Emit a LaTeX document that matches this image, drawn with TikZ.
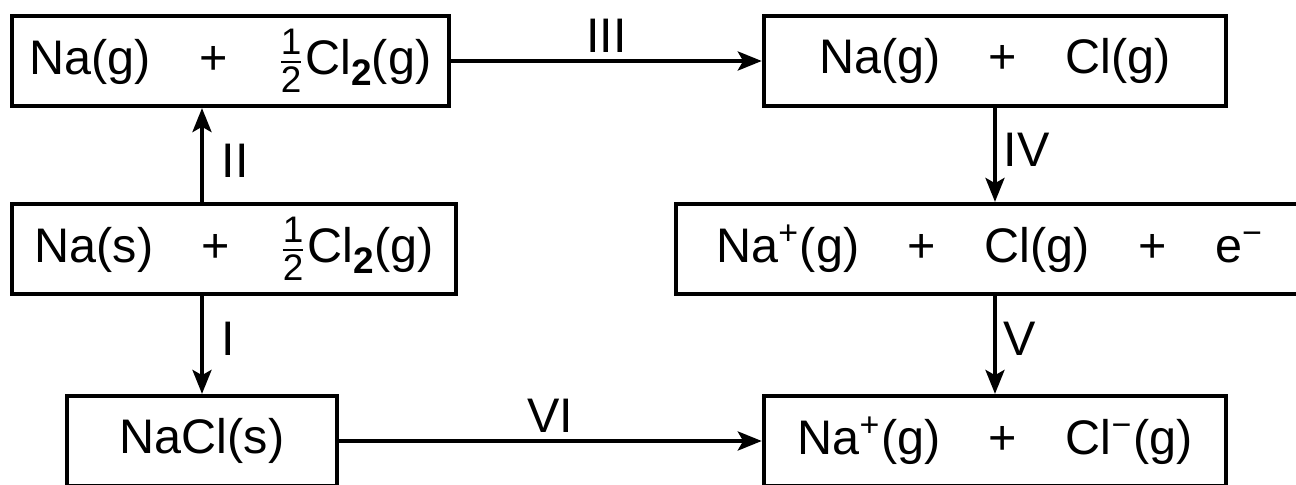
\documentclass[tikz,border=0pt]{standalone}
\usepackage{amsmath}
\usepackage{fontspec}
\setmainfont{Liberation Sans}
\usetikzlibrary{positioning, calc, arrows.meta}
\tikzset{box/.style={draw, line width=1.2pt, inner sep=0pt, minimum height=0.9cm, font=\fontsize{13.8}{16}\selectfont}}
\tikzset{flow/.style={line width=1.1pt, -{Stealth[length=6.8pt, width=5.4pt, inset=1.5pt]}}}
\tikzstyle{stage}=[inner sep=0pt, font=\fontsize{13.8}{16}\selectfont]
\newcommand{\half}{$\frac{\mbox{\fontsize{10.5}{11}\selectfont 1}}{\mbox{\fontsize{10.5}{11}\selectfont 2}}$}
\newcommand{\two}{\raisebox{-3pt}{\fontsize{10.5}{12}\selectfont\bfseries 2}}

\begin{document}
\begin{tikzpicture}[x=0.01cm, y=-0.01cm]
  \useasboundingbox (0,0) rectangle (1296,485);
  \clip (0,0) rectangle (1296,485);

  \node[box, minimum width=4.37cm] (b0) at (230.5,61) {Na(g)\quad+\quad\half Cl\two(g)};
  \node[box, minimum width=4.62cm] (b1) at (995,61) {Na(g)\quad+\quad Cl(g)};
  \node[box, minimum width=4.44cm] (b2) at (234,249) {Na(s)\quad+\quad\half Cl\two(g)};
  \node[box, minimum width=6.28cm] (b3) at (990,249) {Na\textsuperscript{+}(g)\quad+\quad Cl(g)\quad+\quad e\textsuperscript{−}};
  \node[box, minimum width=2.70cm] (b4) at (202,441) {NaCl(s)};
  \node[box, minimum width=4.62cm] (b5) at (995,441) {Na\textsuperscript{+}(g)\quad+\quad Cl\textsuperscript{−}(g)};

  \draw[flow] (b2.north -| b4) -- node[stage, pos=0.44, right=5pt] {II} (b0.south -| b4);
  \draw[flow] (b2.south -| b4) -- node[stage, pos=0.44, right=5pt] {I} (b4.north);
  \draw[flow] (b0.east) -- node[stage, above=2pt] {III} (b1.west);
  \draw[flow] (b1.south) -- node[stage, pos=0.44, right=2pt] {IV} (b1.south |- b3.north);
  \draw[flow] (b5.north |- b3.south) -- node[stage, pos=0.44, right=2pt] {V} (b5.north);
  \draw[flow] (b4.east) -- node[stage, above=2pt] {VI} (b5.west);

\end{tikzpicture}
\end{document}
